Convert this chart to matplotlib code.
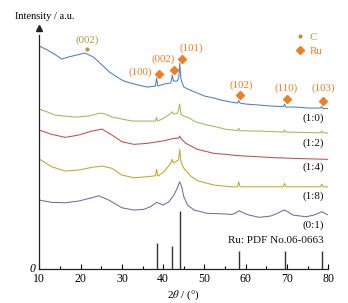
import matplotlib
matplotlib.use("Agg")
import matplotlib.pyplot as plt
from matplotlib.lines import Line2D

plt.rcParams['font.family'] = ['Liberation Serif', 'DejaVu Serif']
plt.rcParams['mathtext.fontset'] = 'stix'

# ---- data (intensity in arbitrary units, stacked) ----
blue_x = [10, 12, 14, 15.4, 17, 19, 21.1, 23.1, 25.2, 27, 29.2, 30.5, 32.1, 34, 36.1, 38.1, 38.4, 38.7,
          40.2, 41.8, 42.0, 42.2, 42.5, 43.4, 43.8, 44.0, 44.3, 45, 46.5, 48.3, 50, 52.3, 54, 56.4,
          58.0, 58.3, 58.6, 60, 63.3, 66, 69.1, 69.4, 69.7, 72, 75.4, 78.1, 78.4, 78.7, 80]
blue_y = [223, 219, 214, 210, 212, 214, 216, 212, 204, 197, 191, 188, 186, 184, 182, 183, 191, 183,
          185, 186, 189, 194, 188, 188, 192, 206, 190, 182, 179, 176, 173, 171, 169, 167,
          166, 168.5, 166, 165, 164, 163, 162.5, 165, 162, 162, 161, 161, 162.5, 160.5, 160.7]

green_x = [10, 12, 13.8, 16, 18.7, 21.9, 24.8, 26, 27.6, 30, 32.5, 35, 38.1, 38.4, 38.7, 40.2, 41.8,
           42.2, 42.5, 43.5, 44.0, 44.3, 45, 45.9, 48, 50.7, 53, 55.2, 58.0, 58.3, 58.6, 63,
           69.1, 69.4, 69.7, 75, 78.1, 78.4, 78.7, 80]
green_y = [160, 157, 154, 153, 152, 153, 156, 155, 152, 150, 148, 148, 148, 151.7, 148, 151, 155.7,
           157.3, 155, 155.7, 165, 155, 153, 151.7, 147, 144, 142, 139.7, 138.5, 140.7, 138.3, 138,
           137, 139, 137, 136.5, 136.3, 138, 136.3, 136]

red_x = [10, 13, 16.3, 19.5, 22.7, 25.2, 27.6, 30, 32.9, 36.1, 40.2, 42.6, 43.8, 44.0, 44.3, 45.5,
         48.3, 52.3, 55.2, 58, 60, 67.4, 73, 80]
red_y = [139, 134.7, 131.7, 134, 138, 140, 134, 127.3, 124.7, 125.7, 128.3, 130.7, 131, 133, 130.5,
         125.7, 119.7, 115.7, 114.7, 113.5, 113, 111.3, 110.5, 109.7]

yellow_x = [10, 13, 16.3, 19.5, 22.7, 25.2, 27.6, 30, 32.9, 36.1, 38.1, 38.4, 38.7, 40.2, 41.8,
            42.2, 42.5, 43.0, 43.7, 44.0, 44.3, 45, 46.7, 48.3, 52.3, 56.4, 58.0, 58.3, 58.6,
            63, 69.1, 69.4, 69.7, 75, 78.1, 78.4, 78.7, 80]
yellow_y = [110, 102.3, 98, 99, 101.7, 103, 100.7, 94, 91.3, 92.3, 93.3, 99.7, 93, 97.3, 105.7,
            109.7, 106, 107.3, 109, 119.7, 107, 100.7, 93, 88.3, 84, 82.3, 82.3, 87.3, 82.3,
            82.3, 82.3, 85.7, 82.3, 82.3, 82.3, 85, 82.3, 82.3]

purple_x = [10, 13, 16.3, 19.5, 22.7, 24.4, 26.8, 30, 32.9, 35.3, 36.9, 38.4, 40, 41.4, 42.6, 43.3,
            44.0, 44.5, 45.0, 45.9, 47.5, 50.7, 55.6, 56.5, 57.5, 58.4, 59.5, 60.8, 63.3, 66,
            67.3, 68.5, 69.4, 70.3, 71.4, 74.6, 76.5, 78.4, 80]
purple_y = [69, 66.7, 66.3, 68, 71.3, 73.3, 69, 61.3, 59, 59.7, 62.3, 66.7, 64, 67.3, 74, 80,
            87.3, 82, 72.3, 64, 59, 55.7, 55, 54.5, 56, 58.3, 56, 54, 51.7, 53,
            55, 57.5, 59, 57, 54, 52.3, 54, 57.3, 54]

ref_pos = [38.4, 42.2, 44.0, 58.3, 69.4, 78.4]
ref_int = [26.5, 23.5, 58, 18, 18, 18]

sample_labels = ['(1:0)', '(1:2)', '(1:4)', '(1:8)', '(0:1)']
sample_label_y = [151.3, 126.3, 102.3, 73, 44]

ru_hkl = ['(100)', '(002)', '(101)', '(102)', '(110)', '(103)']
ru_text_x = [34.4, 40.0, 46.7, 58.8, 69.8, 78.8]
ru_text_y = [197, 210, 221, 184, 180.7, 180.7]
ru_mark_x = [39.0, 42.6, 44.5, 58.6, 69.9, 78.65]
ru_mark_y = [195, 198.7, 209.7, 174, 169.7, 168.3]

c_hkl = '(002)'
c_text_x, c_text_y = 21.6, 229
c_mark_x, c_mark_y = [21.6], [220]

xticks = [10, 20, 30, 40, 50, 60, 70, 80]

# ---- colours ----
c_blue = '#4f7fbf'
c_green = '#9bbb59'
c_red = '#c0504d'
c_yellow = '#b8ab34'
c_purple = '#8064a2'
c_orange = '#f07d2a'
c_olive = '#a89b45'

fig = plt.figure(figsize=(3.48, 3.03), dpi=100)
ax = fig.add_axes([0.113, 0.112, 0.8305, 0.7954])

lw = 0.75
ax.plot(blue_x, blue_y, color=c_blue, lw=lw)
ax.plot(green_x, green_y, color=c_green, lw=lw)
ax.plot(red_x, red_y, color=c_red, lw=lw)
ax.plot(yellow_x, yellow_y, color=c_yellow, lw=lw)
ax.plot(purple_x, purple_y, color=c_purple, lw=lw)

ax.vlines(ref_pos, 0, ref_int, color='#333333', lw=1.0)

for lab, yy in zip(sample_labels, sample_label_y):
    ax.text(78.9, yy, lab, ha='right', va='center', fontsize=8, color='#111111')
ax.text(78.9, 29, 'Ru: PDF No.06-0663', ha='right', va='center', fontsize=8, color='#111111')

for lab, tx, ty in zip(ru_hkl, ru_text_x, ru_text_y):
    ax.text(tx, ty, lab, ha='center', va='center', fontsize=7.8, color=c_orange)
ax.plot(ru_mark_x, ru_mark_y, 'D', color=c_orange, ms=4.5, ls='none')

ax.text(c_text_x, c_text_y, c_hkl, ha='center', va='center', fontsize=7.8, color=c_olive)
ax.plot(c_mark_x, c_mark_y, 'o', color=c_olive, ms=2.0, ls='none')

ax.set_xlim(10, 80)
ax.set_ylim(0, 241)
ax.set_xticks(xticks)
ax.set_xticks([15, 25, 35, 45, 55, 65, 75], minor=True)
ax.set_yticks([])
ax.tick_params(axis='x', which='major', direction='in', length=3.4, width=0.8, labelsize=8.5, pad=3)
ax.tick_params(axis='x', which='minor', direction='in', length=2, width=0.8)
for s in ['top', 'right']:
    ax.spines[s].set_visible(False)
for s in ['left', 'bottom']:
    ax.spines[s].set_linewidth(0.9)
    ax.spines[s].set_color('#222222')
ax.spines['left'].set_bounds(0, 234)

# arrow head on the y axis
ax.plot([0], [1.0], marker='^', color='#222222', ms=5, transform=ax.transAxes, clip_on=False)

ax.text(-0.012, 0, '0', transform=ax.get_yaxis_transform(), ha='right', va='center',
        fontsize=8.5, style='italic')
ax.text(-0.085, 1.048, 'Intensity / a.u.', transform=ax.transAxes, ha='left', va='center', fontsize=7.5)
ax.set_xlabel(r'2$\it{\theta}$ / (°)', fontsize=8, labelpad=2)

handles = [Line2D([], [], marker='o', ls='none', color=c_olive, ms=2.0),
           Line2D([], [], marker='D', ls='none', color=c_orange, ms=4.5)]
leg = ax.legend(handles, ['C', 'Ru'], loc='upper left', bbox_to_anchor=(0.865, 1.015), frameon=False,
                fontsize=8, handlelength=0.6, handletextpad=0.5, labelspacing=0.35, borderpad=0.2)
for t, c in zip(leg.get_texts(), [c_olive, c_orange]):
    t.set_color(c)

fig.savefig('out.png', dpi=100)
